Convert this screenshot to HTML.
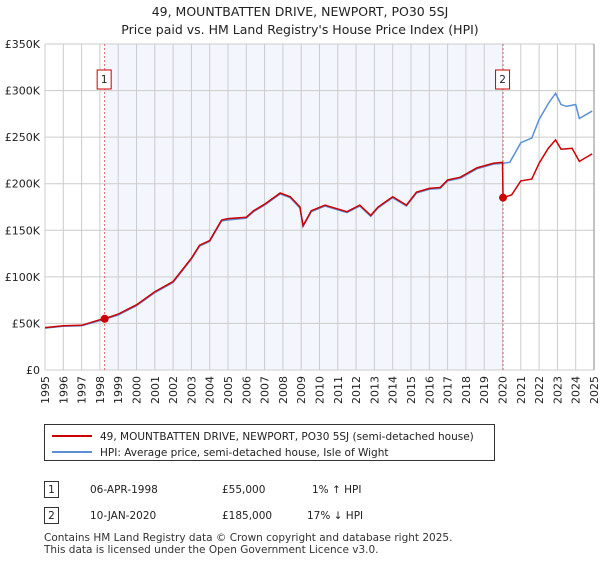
<!DOCTYPE html>
<html><head><meta charset="utf-8"><style>
body{margin:0;background:#fff;font-family:"Liberation Sans","DejaVu Sans",sans-serif;}
svg text{font-family:"DejaVu Sans","Liberation Sans",sans-serif;}
</style></head><body>
<svg id="c" width="600" height="560" xmlns="http://www.w3.org/2000/svg">
<text x="300" y="16" text-anchor="middle" font-size="12.5" fill="#222">49, MOUNTBATTEN DRIVE, NEWPORT, PO30 5SJ</text>
<text x="300" y="34" text-anchor="middle" font-size="12.5" fill="#222">Price paid vs. HM Land Registry's House Price Index (HPI)</text>
<g id="plot"></g>
<g>
<rect x="44.5" y="424.5" width="450" height="36" fill="#fff" stroke="#333"/>
<line x1="52" y1="436" x2="92" y2="436" stroke="#cc0000" stroke-width="2"/>
<text x="100" y="440" font-size="10.5" fill="#222">49, MOUNTBATTEN DRIVE, NEWPORT, PO30 5SJ (semi-detached house)</text>
<line x1="52" y1="452" x2="92" y2="452" stroke="#5b8fd6" stroke-width="2"/>
<text x="100" y="456" font-size="10.5" fill="#222">HPI: Average price, semi-detached house, Isle of Wight</text>
</g>
<g font-size="10.5" fill="#222">
<rect x="44.5" y="481.5" width="14" height="16" fill="#fff" stroke="#333"/>
<text x="51.5" y="493" text-anchor="middle">1</text>
<text x="90" y="493">06-APR-1998</text><text x="222" y="493">£55,000</text><text x="312" y="493">1% ↑ HPI</text>
<rect x="44.5" y="507.5" width="14" height="16" fill="#fff" stroke="#333"/>
<text x="51.5" y="519" text-anchor="middle">2</text>
<text x="90" y="519">10-JAN-2020</text><text x="222" y="519">£185,000</text><text x="307" y="519">17% ↓ HPI</text>
</g>
<text x="44" y="541" font-size="10.5" fill="#333">Contains HM Land Registry data © Crown copyright and database right 2025.</text>
<text x="44" y="553" font-size="10.5" fill="#333">This data is licensed under the Open Government Licence v3.0.</text>
</svg>
<script>
const yearTicks=[1995,1996,1997,1998,1999,2000,2001,2002,2003,2004,2005,2006,2007,2008,2009,2010,2011,2012,2013,2014,2015,2016,2017,2018,2019,2020,2021,2022,2023,2024,2025];
const valueTicks=[0,50,100,150,200,250,300,350];
const valueLabels=["£0","£50K","£100K","£150K","£200K","£250K","£300K","£350K"];
const hpiYears=[1995,1996,1997,1998,1999,2000,2001,2002,2003,2003.45,2004,2004.65,2005,2006,2006.4,2007,2007.85,2008.4,2008.93,2009.1,2009.3,2009.55,2010.3,2011.5,2012.2,2012.8,2013.2,2014,2014.75,2015.3,2016,2016.6,2017,2017.7,2018.6,2019.5,2020.03,2020.4,2021,2021.6,2022,2022.5,2022.9,2023.2,2023.5,2024,2024.2,2024.9];
const hpiValues=[45,47,47.5,53,59,69,83,94,119,133,138,160,161,163,170,177,189,185,174,154,161,170,176,169,176,165,174,185,176,190,194,195,203,206,216,221,222,223,244,249,269,286,297,285,283,285,270,278];
const priceYears=[1995,1996,1997,1998,1998.26,1999,2000,2001,2002,2003,2003.45,2004,2004.65,2005,2006,2006.4,2007,2007.85,2008.4,2008.93,2009.1,2009.3,2009.55,2010.3,2011.5,2012.2,2012.8,2013.2,2014,2014.75,2015.3,2016,2016.6,2017,2017.7,2018.6,2019.5,2020.0,2020.03,2020.5,2021,2021.6,2022,2022.5,2022.9,2023.2,2023.8,2024.2,2024.9];
const priceValues=[45.5,47.5,48,54,55,60,70,84,95,120,134,139,161,162.5,164,171,178,190,186,175,155,162,171,177,170,177,166,175,186,177,191,195,196,204,207,217,222,223,185,188,203,205,222,238,247,237,238,224,232];
const saleYears=[1998.26,2020.03];
const saleValues=[55,185];
const saleLabels=["1","2"];
const NS="http://www.w3.org/2000/svg";
const L=45,R=594,T=44,B=370;
const X=y=>L+(y-1995)/30*(R-L);
const Y=v=>B-v/350*(B-T);
const g=document.getElementById('plot');
function mk(t,a){const e=document.createElementNS(NS,t);for(const k in a)e.setAttribute(k,a[k]);g.appendChild(e);return e;}
const sh=mk('rect',{x:X(saleYears[0]),y:T,width:X(saleYears[1])-X(saleYears[0]),height:B-T,fill:'#f3f6fd'});


yearTicks.forEach(yr=>{
 const l=mk('line',{x1:X(yr),x2:X(yr),y1:T,y2:B,stroke:'#cccccc','stroke-width':1});
 
 
 const t=mk('text',{x:0,y:0,'font-size':11,fill:'#222','text-anchor':'end',transform:`translate(${X(yr)+4},${B+6}) rotate(-90)`});
 t.textContent=yr;
 
 
});
valueTicks.forEach((v,i)=>{
 const l=mk('line',{x1:L,x2:R,y1:Y(v),y2:Y(v),stroke:'#cccccc','stroke-width':1});
 
 
 const t=mk('text',{x:L-5,y:Y(v)+4,'font-size':11,fill:'#222','text-anchor':'end'});
 t.textContent=valueLabels[i];
 
 
});
const rb=mk('line',{x1:R,x2:R,y1:T,y2:B,stroke:'#888','stroke-width':1});


saleYears.forEach((yr,i)=>{
 const l=mk('line',{x1:X(yr),x2:X(yr),y1:T,y2:B,stroke:'#e06666','stroke-width':1,'stroke-dasharray':'2,2'});
 
 
});
const hp=mk('polyline',{points:hpiYears.map((y,i)=>X(y)+','+Y(hpiValues[i])).join(' '),fill:'none',stroke:'#5b8fd6','stroke-width':1.5});


const pp=mk('polyline',{points:priceYears.map((y,i)=>X(y)+','+Y(priceValues[i])).join(' '),fill:'none',stroke:'#cc0000','stroke-width':1.5});


saleYears.forEach((yr,i)=>{
 const c=mk('circle',{cx:X(yr),cy:Y(saleValues[i]),r:4,fill:'#cc0000'});
 
 
 const bx=mk('rect',{x:X(yr)-7.5,y:70,width:14,height:19,fill:'#fff',stroke:'#cc0000'});
 
 
 const t=mk('text',{x:X(yr)-0.5,y:83,'font-size':10.5,fill:'#222','text-anchor':'middle'});
 t.textContent=saleLabels[i];
 
 
});
</script>
</body></html>
